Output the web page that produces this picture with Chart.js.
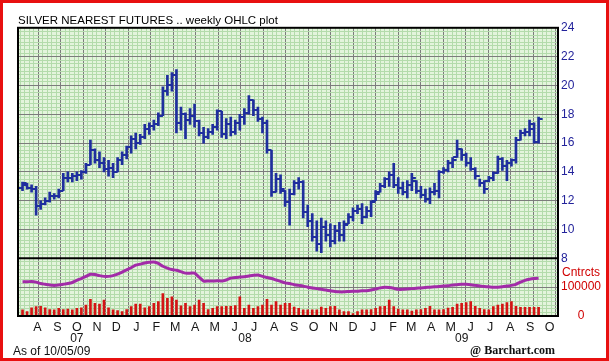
<html>
<head>
<script src="https://cdn.jsdelivr.net/npm/chart.js@4.4.0/dist/chart.umd.min.js"></script>
<style>
  body{margin:0;background:#fff}
  #box{width:603px;height:355px;border:3px solid #e81010;background:#fff}
</style>
</head>
<body>
<div id="box"><canvas id="pc" width="603" height="355"></canvas></div>
<script>
  // weekly bars, first week starts Monday 2007-07-23
  var weekStart = '2007-07-23';
  var highs = [13.3,13.2,13.1,13.0,12.0,12.2,12.6,12.5,12.8,13.9, 14.0,13.9,14.0,14.1,14.6,16.2,15.6,15.4,15.0,14.8,
    14.6,15.0,15.4,15.8,16.5,16.7,16.6,17.3,17.4,17.6, 18.1,19.9,20.7,20.9,21.1,18.5,18.1,18.4,18.7,17.6,
    17.1,17.0,17.3,18.3,18.2,17.7,17.8,17.6,18.0,18.4, 19.3,19.0,18.5,17.8,17.6,15.5,13.9,13.8,12.7,12.8,
    13.4,13.6,13.4,11.7,11.1,10.6,10.8,10.6,10.4,10.3, 10.5,10.6,11.1,11.5,11.7,11.8,11.6,12.0,12.7,13.2,
    13.6,14.0,14.6,13.6,13.3,13.4,13.9,13.4,13.0,12.8, 12.9,13.2,14.1,14.3,14.8,15.0,16.2,15.6,15.3,15.0,
    14.3,13.5,13.4,13.7,14.0,15.1,15.0,14.8,14.9,16.4, 16.9,17.0,17.6,17.4,17.8];
  var lows = [12.7,12.8,12.6,11.0,11.4,11.7,11.9,12.1,12.2,12.7, 13.3,13.3,13.4,13.5,13.9,14.5,14.6,14.3,14.0,13.7,
    13.6,14.0,14.5,14.9,15.3,15.6,15.9,16.3,16.6,16.9, 17.2,17.9,19.3,19.6,16.7,16.9,16.3,17.3,17.1,16.5,
    16.0,16.3,16.6,16.9,16.4,16.3,16.5,16.6,16.9,17.3, 18.0,17.9,17.5,16.7,15.3,12.3,12.6,12.5,11.6,10.3,
    12.4,12.8,10.8,10.2,9.2,8.5,8.4,9.2,8.8,9.0, 9.2,9.2,10.4,10.6,11.1,10.4,10.8,10.9,12.0,12.6,
    12.9,13.0,12.9,12.5,12.4,12.2,12.7,12.5,12.2,11.9, 11.8,12.4,12.2,13.9,14.0,14.3,15.0,14.8,14.4,14.1,
    13.5,13.0,12.5,13.3,13.4,13.9,14.1,13.4,14.4,14.6, 16.2,16.5,16.5,16.0,16.0];
  var opens = [12.9,13.1,12.9,12.8,11.6,11.8,12.0,12.3,12.3,12.7, 13.6,13.6,13.7,13.8,14.0,14.5,15.5,14.8,14.6,14.2,
    14.3,14.0,14.8,15.2,15.7,16.3,16.0,16.4,17.0,17.2, 17.3,17.9,19.6,20.0,20.7,17.4,18.0,17.6,17.9,17.5,
    16.7,16.4,16.8,17.1,18.2,16.6,17.3,16.8,17.4,17.8, 18.1,19.0,18.3,17.7,17.4,15.5,12.6,13.5,12.7,11.9,
    12.5,13.2,13.3,11.2,10.6,9.5,9.0,10.2,9.6,9.2, 9.9,9.6,10.4,10.9,11.3,11.4,10.9,11.3,12.0,12.6,
    13.0,13.5,13.8,13.1,12.9,12.6,13.1,13.4,12.7,12.4, 12.1,12.6,12.7,14.0,14.1,14.6,15.0,15.6,15.2,14.6,
    14.2,13.7,13.2,13.4,13.6,13.9,14.9,14.4,14.6,14.8, 16.2,16.7,16.8,17.0,16.1];
  var closes = [13.2,12.9,12.8,11.6,11.8,12.0,12.3,12.3,12.7,13.6, 13.6,13.7,13.8,14.0,14.5,15.5,14.8,14.6,14.2,14.3,
    14.0,14.8,15.2,15.7,16.3,16.0,16.4,17.0,17.2,17.3, 17.9,19.6,20.0,20.7,17.4,18.0,17.6,17.9,17.5,16.7,
    16.4,16.8,17.1,18.2,16.6,17.3,16.8,17.4,17.8,18.1, 19.0,18.3,17.7,17.4,15.5,12.6,13.5,12.8,11.9,12.5,
    13.2,13.3,11.2,10.6,9.5,9.0,10.2,9.6,9.2,9.9, 9.6,10.3,10.9,11.3,11.4,10.9,11.3,11.9,12.5,13.0,
    13.5,13.8,13.1,12.9,12.6,13.1,13.6,12.7,12.4,12.1, 12.6,12.7,14.0,14.1,14.6,14.8,15.6,15.2,14.6,14.2,
    13.7,13.2,12.8,13.6,13.9,14.9,14.4,14.6,14.8,16.2, 16.7,16.8,17.3,16.1,17.7];
  // volume and open interest, thousands of contracts
  var volumeK = [17,12,23,26,27,23,18,17,21,18, 19,17,21,23,30,46,35,33,44,23, 17,15,12,18,26,33,33,23,26,35,
    40,62,49,53,44,28,35,26,30,44, 35,18,21,26,26,27,27,29,53,21, 30,21,26,30,46,30,40,30,35,35,
    25,21,17,17,17,17,25,21,26,27, 17,12,12,7,12,17,17,18,21,26, 27,44,26,19,17,17,14,17,18,21,
    27,17,17,18,22,24,33,35,37,40, 27,21,18,17,26,30,33,37,40,27, 24,24,24,24,24];
  var openIntK = [95,95,96,94,90,88,86,85,86,88, 90,93,99,104,110,116,115,112,110,110, 112,116,122,128,134,141,144,147,149,150,
    146,138,133,129,127,123,119,119,119,108, 97,97,97,98,97,100,105,107,108,109, 111,113,114,110,107,104,100,96,92,90,
    87,85,83,80,78,76,74,72,70,68, 67,67,68,69,69,70,70,72,75,78, 80,79,77,74,74,75,76,77,78,79,
    80,81,82,83,84,86,87,88,88,87, 85,83,82,81,80,80,81,83,85,88, 94,99,102,104,105];

  var monthLetters = ['A','S','O','N','D','J','F','M','A','M','J','J','A','S','O','N','D','J','F','M','A','M','J','J','A','S','O'];
  var yearLabels = ['07','08','09'];
  var yearDates = ['2007-10-15','2008-07-01','2009-06-01'];

  var navy = '#1f2e9e', major = '#7c7c7c', minor = '#b3dbab', paper = '#e3f4dc';
  Chart.defaults.font.family = 'Liberation Sans';

  eb=s=>document.getElementById(s);
  var day0 = Date.UTC(2007,6,1);
  dn=s=>(Date.parse(s)-day0)/864e5;
  wx=i=>dn(weekStart)+7*i;
  monthMid=k=>(Date.UTC(2007,7+k,15)-day0)/864e5;
  var xmin = dn('2007-07-16'), xmax = dn('2009-10-28');

  function tickImg(left){
    var c = document.createElement('canvas'); c.width = 10; c.height = 2;
    var g = c.getContext('2d'); g.fillStyle = navy; g.fillRect(left ? 1 : 5, 0, 4, 2);
    return c;
  }
  function steps(a, b, s){ var t = []; for (var v = a; v <= b + 1e-9; v += s) t.push({value: v}); return t; }
  tv=c=>c.tick ? c.tick.value : NaN;

  var frame = {
    id: 'frame',
    beforeDraw(c){
      var a = c.chartArea, g = c.ctx;
      g.save(); g.fillStyle = paper; g.fillRect(a.left, a.top, a.width, a.height); g.restore();
    },
    afterDatasetsDraw(c){
      var a = c.chartArea, g = c.ctx, y = c.scales.y.bottom;
      g.save(); g.strokeStyle = '#000'; g.lineWidth = 2;
      g.strokeRect(a.left, a.top, a.width, a.height);
      g.beginPath(); g.moveTo(a.left, y); g.lineTo(a.right, y); g.stroke();
      g.restore();
    },
    afterDraw(c){
      var g = c.ctx;
      g.save(); g.fillStyle = '#111'; g.textBaseline = 'middle';
      g.font = '12px "Liberation Sans"'; g.textAlign = 'left';
      g.fillText('As of 10/05/09', 10, 349);
      g.font = 'bold 12px "Liberation Serif"'; g.textAlign = 'right';
      g.fillText('@ Barchart.com', 552, 348);
      g.restore();
    }
  };

  var pc;
  function pci(){
    var idx = highs.map((h,i)=>i);
    pc = new Chart(eb('pc'), {
      type: 'bar',
      data: {
        datasets: [
          {label: 'Range', yAxisID: 'y', grouped: false, barThickness: 2, backgroundColor: navy,
            data: idx.map(i=>({x: wx(i), y: [lows[i], highs[i]]}))},
          {type: 'line', label: 'Open', yAxisID: 'y', showLine: false, pointStyle: tickImg(true),
            data: idx.map(i=>({x: wx(i), y: opens[i]}))},
          {type: 'line', label: 'Close', yAxisID: 'y', showLine: false, pointStyle: tickImg(false),
            data: idx.map(i=>({x: wx(i), y: closes[i]}))},
          {label: 'Volume', yAxisID: 'yv', grouped: false, barThickness: 2, backgroundColor: '#d41414',
            data: idx.map(i=>({x: wx(i), y: volumeK[i]*1000}))},
          {type: 'line', label: 'Open interest', yAxisID: 'yv', borderColor: '#a22ba8', borderWidth: 3,
            pointRadius: 0, tension: 0.2, data: idx.map(i=>({x: wx(i), y: openIntK[i]*1000}))}
        ]
      },
      options: {
        responsive: false, animation: false,
        layout: {padding: {left: 15, right: 0, top: 0, bottom: 12}},
        plugins: {
          legend: {display: false}, tooltip: {enabled: false},
          title: {display: true, text: 'SILVER NEAREST FUTURES .. weekly OHLC plot', align: 'start',
            color: '#000', font: {size: 11.5, weight: 'normal'}, padding: {top: 11, bottom: 0}}
        },
        scales: {
          x: {type: 'linear', position: 'bottom', weight: 1, min: xmin, max: xmax, offset: false,
            grid: {display: false, drawTicks: false}, border: {display: false},
            afterBuildTicks: s=>{ s.ticks = monthLetters.map((m,k)=>({value: monthMid(k)})); },
            afterFit: s=>{ s.height = 16; },
            ticks: {autoSkip: false, maxRotation: 0, padding: 4, color: '#151515', font: {size: 12.5},
              callback: (v,k)=>monthLetters[k]}},
          x2: {type: 'linear', position: 'bottom', weight: 2, min: xmin, max: xmax, offset: false,
            grid: {display: false, drawTicks: false}, border: {display: false},
            afterBuildTicks: s=>{ s.ticks = yearDates.map(d=>({value: dn(d)})); },
            afterFit: s=>{ s.height = 14; },
            ticks: {autoSkip: false, maxRotation: 0, padding: -1, color: '#151515', font: {size: 12},
              callback: (v,k)=>yearLabels[k]}},
          gx: {type: 'linear', position: 'bottom', weight: 0, min: 0, max: 120, offset: false,
            border: {display: false}, ticks: {display: false},
            afterBuildTicks: s=>{ s.ticks = steps(0, 120, 1); },
            afterFit: s=>{ s.height = 0; },
            grid: {drawTicks: false, color: c=>tv(c) % 5 === 0 ? major : minor}},
          y: {position: 'right', stack: 'p', stackWeight: 4, min: 8, max: 24, border: {display: false},
            afterBuildTicks: s=>{ s.ticks = steps(8, 24, 0.25); },
            afterFit: s=>{ s.width = 48; },
            grid: {drawTicks: false, color: c=>tv(c) % 2 === 0 ? major : minor},
            ticks: {autoSkip: false, padding: 3, color: '#23239b', font: {size: 12},
              callback: v=>v % 2 === 0 ? v : ''}},
          yv: {position: 'right', stack: 'p', stackWeight: 1, min: 0, max: 160000, border: {display: false},
            afterBuildTicks: s=>{ s.ticks = steps(0, 160000, 10000); },
            afterFit: s=>{ s.width = 48; },
            grid: {drawTicks: false, color: c=>tv(c) === 80000 ? major : minor},
            ticks: {autoSkip: false, padding: 3, crossAlign: 'center', color: '#d00000', font: {size: 12},
              callback: v=>v === 100000 ? ['Cntrcts','100000'] : (v === 0 ? '0' : '')}}
        }
      },
      plugins: [frame]
    });
  }
  wl=f=>window.addEventListener('load',f);
  wl(pci);
</script>
</body>
</html>
